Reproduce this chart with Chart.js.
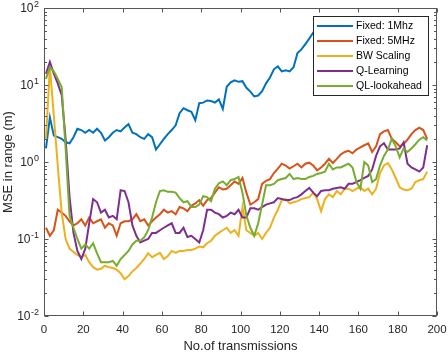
<!DOCTYPE html>
<html>
<head>
<meta charset="utf-8">
<script src="https://cdn.jsdelivr.net/npm/chart.js@4.4.1/dist/chart.umd.min.js"></script>
<style>
  html, body { margin: 0; padding: 0; background: #fff; }
  #wrap { width: 448px; height: 352px; }
</style>
</head>
<body>
<div id="wrap"><canvas id="chart"></canvas></div>
<script>
// sample positions (every 2nd transmission)
const transmissions = Array.from({ length: 98 }, (_, i) => 2 * i + 1);

const seriesNames = ["Fixed: 1Mhz", "Fixed: 5MHz", "BW Scaling", "Q-Learning", "QL-lookahead"];
const seriesColors = ["#0072BD", "#D95319", "#EDB120", "#7E2F8E", "#77AC30"];

// values
const fixed1 = [1.5, 3.8, 2.2, 2.1, 2.0, 1.8, 1.75, 2.1, 2.7, 2.6,
  2.4, 2.6, 2.4, 2.7, 2.4, 1.9, 2.1, 2.4, 2.6, 2.5,
  2.8, 3.1, 2.4, 2.3, 2.1, 2.0, 2.3, 2.1, 1.45, 1.7,
  2.0, 2.3, 2.6, 3.0, 4.3, 5.0, 4.7, 4.5, 3.5, 5.8,
  5.9, 6.3, 6.2, 5.9, 6.5, 4.9, 9.5, 10.8, 11.5, 11,
  11.2, 9.2, 8.2, 7.1, 7.3, 8.3, 10.5, 12.5, 16, 17.5,
  15, 15.5, 15, 17, 26, 29, 34, 40, 48, 55];

const fixed5 = [0.14, 0.11, 0.13, 0.24, 0.22, 0.2, 0.17, 0.15, 0.16, 0.18,
  0.15, 0.19, 0.16, 0.17, 0.18, 0.14, 0.16, 0.15, 0.11, 0.16,
  0.17, 0.17, 0.18, 0.21, 0.17, 0.18, 0.15, 0.17, 0.19, 0.21,
  0.24, 0.22, 0.23, 0.21, 0.26, 0.25, 0.23, 0.27, 0.29, 0.32,
  0.27, 0.32, 0.34, 0.4, 0.47, 0.44, 0.45, 0.5, 0.56, 0.52,
  0.62, 0.4, 0.28, 0.3, 0.33, 0.52, 0.57, 0.6, 0.72, 0.82,
  0.95, 0.9, 0.82, 0.88, 0.95, 0.85, 0.95, 0.98, 0.9, 0.78,
  0.85, 0.95, 1.1, 0.97, 1.1, 1.25, 1.35, 1.4, 1.3, 1.45,
  1.55, 1.65, 1.75, 1.35, 1.6, 2.3, 2.5, 2.6, 2.0, 1.8,
  1.6, 1.7, 1.95, 2.3, 2.6, 2.8, 2.6, 2.0];

const bwScaling = [2.0, 17, 4, 0.9, 0.22, 0.1, 0.075, 0.068, 0.062, 0.058,
  0.062, 0.05, 0.043, 0.04, 0.041, 0.045, 0.043, 0.042, 0.04, 0.036,
  0.03, 0.033, 0.038, 0.042, 0.048, 0.055, 0.065, 0.058, 0.062, 0.066,
  0.055, 0.06, 0.07, 0.066, 0.07, 0.07, 0.072, 0.072, 0.075, 0.08,
  0.078, 0.088, 0.095, 0.11, 0.12, 0.13, 0.14, 0.12, 0.13, 0.11,
  0.26, 0.13, 0.12, 0.11, 0.12, 0.1, 0.12, 0.14, 0.19, 0.24,
  0.32, 0.33, 0.29, 0.3, 0.31, 0.33, 0.34, 0.35, 0.4, 0.33,
  0.23, 0.33, 0.38, 0.35, 0.42, 0.38, 0.45, 0.45, 0.42, 0.45,
  0.47, 0.42, 0.45, 0.38, 0.45, 0.72, 0.9, 0.97, 0.8, 0.62,
  0.47, 0.44, 0.43, 0.45, 0.55, 0.58, 0.6, 0.75];

const qLearning = [14, 20, 14, 10.5, 7.4, 2.0, 0.35, 0.12, 0.07, 0.055,
  0.075, 0.16, 0.33, 0.3, 0.22, 0.24, 0.19, 0.2, 0.18, 0.43,
  0.42, 0.3, 0.15, 0.11, 0.09, 0.095, 0.1, 0.12, 0.12, 0.13,
  0.14, 0.15, 0.16, 0.12, 0.12, 0.14, 0.106, 0.11, 0.1, 0.09,
  0.13, 0.24, 0.24, 0.22, 0.21, 0.19, 0.2, 0.22, 0.21, 0.24,
  0.19, 0.19, 0.25, 0.25, 0.24, 0.26, 0.28, 0.29, 0.3, 0.34,
  0.33, 0.32, 0.32, 0.34, 0.35, 0.38, 0.42, 0.46, 0.4, 0.36,
  0.42, 0.43, 0.43, 0.45, 0.46, 0.47, 0.45, 0.52, 0.52, 0.55,
  0.58, 0.62, 0.66, 0.8, 1.2, 1.6, 1.75, 1.45, 1.45, 1.45,
  1.5, 1.8, 0.95, 0.85, 0.8, 0.75, 0.85, 1.65];

const qlLookahead = [12, 17, 15, 12, 9.4, 1.5, 0.2, 0.14, 0.1, 0.075,
  0.085, 0.075, 0.088, 0.065, 0.05, 0.05, 0.05, 0.052, 0.045, 0.055,
  0.062, 0.07, 0.085, 0.095, 0.095, 0.105, 0.13, 0.19, 0.3, 0.42,
  0.43, 0.41, 0.41, 0.4, 0.34, 0.3, 0.31, 0.26, 0.26, 0.28,
  0.36, 0.35, 0.31, 0.45, 0.53, 0.56, 0.5, 0.58, 0.6, 0.64,
  0.4, 0.2, 0.14, 0.11, 0.16, 0.28, 0.5, 0.5, 0.52, 0.58,
  0.6, 0.62, 0.7, 0.6, 0.62, 0.6, 0.6, 0.64, 0.66, 0.7,
  0.72, 0.75, 0.95, 0.8, 0.85, 0.85, 0.9, 0.95, 0.85, 0.55,
  0.45, 1.0, 0.9, 0.55, 0.6, 0.9, 1.2, 1.45, 2.0, 1.6,
  1.15, 1.5, 1.35, 1.5, 1.7, 1.95, 2.1, 1.9];

const xTicks = [0, 20, 40, 60, 80, 100, 120, 140, 160, 180, 200];
const yTicks = [0.01, 0.1, 1, 10, 100];
const yTickExp = ["-2", "-1", "0", "1", "2"];

const axisColor = "#555555";
const textColor = "#262626";
const fontFam = '"Liberation Sans", Arial, Helvetica, sans-serif';
const font = (size) => `${size}px ${fontFam}`;

const allSeries = [fixed1, fixed5, bwScaling, qLearning, qlLookahead];

// matlab-like box, inward ticks, labels and legend
const matlabAxes = {
  id: "matlabAxes",
  afterDraw(chart) {
    const { ctx, chartArea: a, scales } = chart;
    const xs = scales.x;
    const ys = scales.y;
    const L = Math.round(a.left) + 0.5;
    const R = Math.round(a.right) - 0.5;
    const T = Math.round(a.top) + 0.5;
    const B = Math.round(a.bottom) - 0.5;

    ctx.save();
    ctx.strokeStyle = axisColor;
    ctx.lineWidth = 1;
    ctx.strokeRect(L, T, R - L, B - T);

    ctx.beginPath();
    xTicks.forEach((v) => {
      const p = Math.round(xs.getPixelForValue(v)) + 0.5;
      ctx.moveTo(p, B); ctx.lineTo(p, B - 4);
      ctx.moveTo(p, T); ctx.lineTo(p, T + 4);
    });
    yTicks.forEach((v) => {
      const p = Math.round(ys.getPixelForValue(v)) + 0.5;
      ctx.moveTo(L, p); ctx.lineTo(L + 4, p);
      ctx.moveTo(R, p); ctx.lineTo(R - 4, p);
    });
    // minor ticks 2..9 per decade
    yTicks.slice(0, -1).forEach((d) => {
      for (let m = 2; m <= 9; m++) {
        const p = Math.round(ys.getPixelForValue(d * m)) + 0.5;
        ctx.moveTo(L, p); ctx.lineTo(L + 2.5, p);
        ctx.moveTo(R, p); ctx.lineTo(R - 2.5, p);
      }
    });
    ctx.stroke();

    // x tick labels
    ctx.fillStyle = textColor;
    ctx.font = font(11.5);
    ctx.textAlign = "center";
    ctx.textBaseline = "top";
    xTicks.forEach((v) => {
      ctx.fillText(String(v), xs.getPixelForValue(v), a.bottom + 8);
    });

    // y tick labels 10^n
    yTicks.forEach((v, i) => {
      const p = ys.getPixelForValue(v) + 1;
      const right = a.left - 5;
      ctx.font = font(9);
      const ew = ctx.measureText(yTickExp[i]).width;
      ctx.textAlign = "left";
      ctx.textBaseline = "middle";
      ctx.fillText(yTickExp[i], right - ew, p - 4.5);
      ctx.font = font(12);
      ctx.textAlign = "right";
      ctx.fillText("10", right - ew - 0.5, p);
    });

    // axis titles
    ctx.font = font(13);
    ctx.textAlign = "center";
    ctx.textBaseline = "middle";
    ctx.fillText("No.of transmissions", (a.left + a.right) / 2, 346);
    ctx.save();
    ctx.translate(8, (a.top + a.bottom) / 2);
    ctx.rotate(-Math.PI / 2);
    ctx.fillText("MSE in range (m)", 0, 0);
    ctx.restore();

    // legend box
    const bx = 313.5, by = 16.5, bw = 115, bh = 79;
    ctx.fillStyle = "#ffffff";
    ctx.fillRect(bx, by, bw, bh);
    ctx.strokeStyle = "#262626";
    ctx.strokeRect(bx, by, bw, bh);
    ctx.font = font(10.5);
    ctx.textAlign = "left";
    ctx.textBaseline = "middle";
    seriesNames.forEach((name, i) => {
      const yy = 26 + i * 15;
      ctx.strokeStyle = seriesColors[i];
      ctx.lineWidth = 2;
      ctx.beginPath();
      ctx.moveTo(317, yy); ctx.lineTo(353, yy);
      ctx.stroke();
      ctx.fillStyle = "#000000";
      ctx.fillText(name, 356, yy);
    });
    ctx.restore();
  },
};

new Chart(document.getElementById("chart"), {
  type: "line",
  data: {
    datasets: allSeries.map((vals, i) => ({
      label: seriesNames[i],
      data: vals.map((v, j) => ({ x: transmissions[j], y: v })),
      borderColor: seriesColors[i],
      backgroundColor: seriesColors[i],
      borderWidth: 2,
      pointRadius: 0,
      tension: 0,
      fill: false,
      order: allSeries.length - i,
    })),
  },
  options: {
    responsive: true,
    maintainAspectRatio: false,
    animation: false,
    layout: { padding: { left: 44, right: 11, top: 8, bottom: 36 } },
    scales: {
      x: { type: "linear", min: 0, max: 200, display: false },
      y: { type: "logarithmic", min: 0.01, max: 100, display: false },
    },
    plugins: {
      legend: { display: false },
      tooltip: { enabled: false },
    },
  },
  plugins: [matlabAxes],
});
</script>
</body>
</html>
